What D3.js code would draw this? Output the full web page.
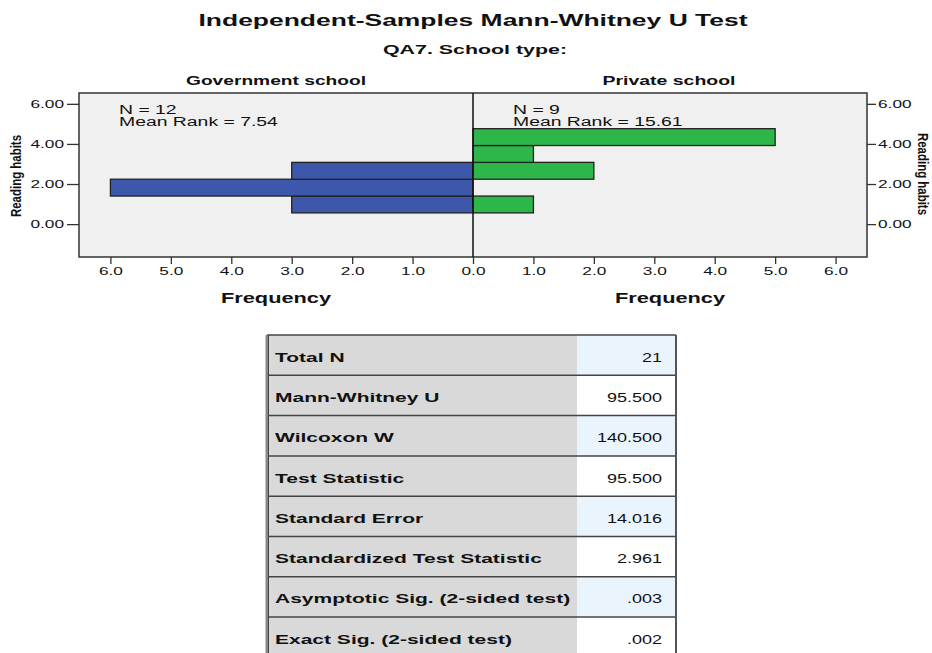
<!DOCTYPE html>
<html>
<head>
<meta charset="utf-8">
<script src="https://cdn.jsdelivr.net/npm/d3@7"></script>
<style>
  body { margin: 0; background: #fff; }
  text { font-family: "Liberation Sans", Arial, sans-serif; fill: #111; }
</style>
</head>
<body>
<div id="chart"></div>
<script>
// data
const binLower = [0.56, 1.40, 2.24, 3.08, 3.92];
const binUpper = [1.40, 2.24, 3.08, 3.92, 4.76];
const govFreq = [3, 6, 3, 0, 0];
const privFreq = [1, 0, 2, 1, 5];
const groups = ["Government school", "Private school"];
const groupN = [12, 9];
const meanRank = ["7.54", "15.61"];
const yTicks = [0, 2, 4, 6];
const xTicks = [0, 1, 2, 3, 4, 5, 6];
const statLabels = ["Total N", "Mann-Whitney U", "Wilcoxon W", "Test Statistic",
  "Standard Error", "Standardized Test Statistic", "Asymptotic Sig. (2-sided test)",
  "Exact Sig. (2-sided test)"];
const statValues = ["21", "95.500", "140.500", "95.500", "14.016", "2.961", ".003", ".002"];

const W = 932, H = 653;
const panel = { left: 79, right: 867, top: 93, bottom: 257 };
const mid = 473;
const K = 1.68; // the picture is stretched sideways

const svg = d3.select("#chart").append("svg")
  .attr("width", W).attr("height", H);

// stretch text horizontally like the original
function widen(sel, k) {
  sel.each(function () {
    const w = this.getComputedTextLength();
    d3.select(this).attr("textLength", w * k).attr("lengthAdjust", "spacingAndGlyphs");
  });
}
function fit(sel, w) {
  sel.attr("textLength", w).attr("lengthAdjust", "spacingAndGlyphs");
}

// scales
const y = d3.scaleLinear().domain([-1.64, 6.54]).range([panel.bottom, panel.top]);
const xL = d3.scaleLinear().domain([0, 6.52]).range([mid, panel.left]);
const xR = d3.scaleLinear().domain([0, 6.52]).range([mid, panel.right]);

// titles
svg.append("text").attr("x", mid).attr("y", 26).attr("text-anchor", "middle")
  .attr("font-size", 16.5).attr("font-weight", "bold")
  .text("Independent-Samples Mann-Whitney U Test").call(fit, 549);
svg.append("text").attr("x", 475).attr("y", 54).attr("text-anchor", "middle")
  .attr("font-size", 12.5).attr("font-weight", "bold")
  .text("QA7. School type:").call(fit, 184);
svg.append("text").attr("x", 276).attr("y", 85).attr("text-anchor", "middle")
  .attr("font-size", 12.5).attr("font-weight", "bold")
  .text(groups[0]).call(fit, 180);
svg.append("text").attr("x", 669).attr("y", 85).attr("text-anchor", "middle")
  .attr("font-size", 12.5).attr("font-weight", "bold")
  .text(groups[1]).call(fit, 133);

// panel
svg.append("rect")
  .attr("x", panel.left).attr("y", panel.top)
  .attr("width", panel.right - panel.left).attr("height", panel.bottom - panel.top)
  .attr("fill", "#f0f0f0").attr("stroke", "#333").attr("stroke-width", 1.5);

// bars
const bins = binLower.map((lo, i) => ({ lo: lo, hi: binUpper[i], gov: govFreq[i], priv: privFreq[i] }));

svg.append("g").selectAll("rect")
  .data(bins.filter(d => d.gov > 0))
  .join("rect")
  .attr("x", d => xL(d.gov))
  .attr("y", d => y(d.hi))
  .attr("width", d => xL(0) - xL(d.gov))
  .attr("height", d => y(d.lo) - y(d.hi))
  .attr("fill", "#3d57ab").attr("stroke", "#222").attr("stroke-width", 1.3);

svg.append("g").selectAll("rect")
  .data(bins.filter(d => d.priv > 0))
  .join("rect")
  .attr("x", xR(0))
  .attr("y", d => y(d.hi))
  .attr("width", d => xR(d.priv) - xR(0))
  .attr("height", d => y(d.lo) - y(d.hi))
  .attr("fill", "#2db64a").attr("stroke", "#222").attr("stroke-width", 1.3);

// centre line
svg.append("line")
  .attr("x1", mid).attr("x2", mid).attr("y1", panel.top).attr("y2", panel.bottom)
  .attr("stroke", "#111").attr("stroke-width", 1.5);

// N / mean rank notes
const notes = [
  { x: 119, lines: ["N = " + groupN[0], "Mean Rank = " + meanRank[0]] },
  { x: 513, lines: ["N = " + groupN[1], "Mean Rank = " + meanRank[1]] }
];
notes.forEach(n => {
  n.lines.forEach((t, i) => {
    svg.append("text").attr("x", n.x).attr("y", 113.5 + i * 12.5)
      .attr("font-size", 12.5).text(t).call(widen, 1.55);
  });
});

// axes
const fmtY = d3.format(".2f"), fmtX = d3.format(".1f");
const gyL = svg.append("g").attr("transform", `translate(${panel.left},0)`)
  .call(d3.axisLeft(y).tickValues(yTicks).tickFormat(fmtY).tickSize(12).tickPadding(3));
const gyR = svg.append("g").attr("transform", `translate(${panel.right},0)`)
  .call(d3.axisRight(y).tickValues(yTicks).tickFormat(fmtY).tickSize(9).tickPadding(2));
const gxL = svg.append("g").attr("transform", `translate(0,${panel.bottom})`)
  .call(d3.axisBottom(xL).tickValues(xTicks.slice(1)).tickFormat(fmtX).tickSize(7).tickPadding(3));
const gxR = svg.append("g").attr("transform", `translate(0,${panel.bottom})`)
  .call(d3.axisBottom(xR).tickValues(xTicks).tickFormat(fmtX).tickSize(7).tickPadding(3));

[gyL, gyR, gxL, gxR].forEach(g => {
  g.select(".domain").remove();
  g.selectAll(".tick line").attr("stroke", "#333").attr("stroke-width", 1.3);
  g.selectAll(".tick text").attr("font-size", 11.5).attr("fill", "#222")
    .attr("font-family", "Liberation Sans, Arial, sans-serif").call(widen, 1.5);
});

// axis titles
[276, 670].forEach(cx => {
  svg.append("text").attr("x", cx).attr("y", 303).attr("text-anchor", "middle")
    .attr("font-size", 14).attr("font-weight", "bold")
    .text("Frequency").call(fit, 110);
});
svg.append("text").attr("transform", "translate(21,176) rotate(-90)")
  .attr("text-anchor", "middle").attr("font-size", 14).attr("font-weight", "bold")
  .attr("font-family", "Liberation Sans Narrow, Liberation Sans, Arial, sans-serif")
  .text("Reading habits").call(fit, 82);
svg.append("text").attr("transform", "translate(918,174) rotate(90)")
  .attr("text-anchor", "middle").attr("font-size", 14).attr("font-weight", "bold")
  .attr("font-family", "Liberation Sans Narrow, Liberation Sans, Arial, sans-serif")
  .text("Reading habits").call(fit, 82);

// statistics table
const tbl = { left: 267, split: 577, right: 676, top: 335, rowH: 40.3 };
const row = d3.scaleBand().domain(statLabels)
  .range([tbl.top, tbl.top + statLabels.length * tbl.rowH]);

const rows = svg.append("g").selectAll("g")
  .data(statLabels.map((l, i) => ({ label: l, value: statValues[i], i: i })))
  .join("g").attr("transform", d => `translate(0,${row(d.label)})`);

rows.append("rect").attr("x", tbl.left).attr("width", tbl.split - tbl.left)
  .attr("height", row.bandwidth()).attr("fill", "#d9d9d9");
rows.append("rect").attr("x", tbl.split).attr("width", tbl.right - tbl.split)
  .attr("height", row.bandwidth()).attr("fill", d => d.i % 2 === 0 ? "#eaf4fd" : "#ffffff");
rows.append("line").attr("x1", tbl.left).attr("x2", tbl.right)
  .attr("stroke", "#444").attr("stroke-width", 1.5);
rows.append("text").attr("x", 275).attr("y", row.bandwidth() / 2 + 6.5)
  .attr("font-size", 12.5).attr("font-weight", "bold")
  .text(d => d.label).call(widen, K);
rows.append("text").attr("x", 662).attr("y", row.bandwidth() / 2 + 6.5)
  .attr("text-anchor", "end").attr("font-size", 12).attr("fill", "#222")
  .text(d => d.value).call(widen, 1.5);

// table borders
const tBottom = tbl.top + statLabels.length * tbl.rowH;
svg.append("line").attr("x1", tbl.left).attr("x2", tbl.left)
  .attr("y1", tbl.top).attr("y2", tBottom).attr("stroke", "#888").attr("stroke-width", 3);
svg.append("line").attr("x1", tbl.left + 1.5).attr("x2", tbl.left + 1.5)
  .attr("y1", tbl.top).attr("y2", tBottom).attr("stroke", "#444").attr("stroke-width", 1);
svg.append("line").attr("x1", tbl.right).attr("x2", tbl.right)
  .attr("y1", tbl.top).attr("y2", tBottom).attr("stroke", "#555").attr("stroke-width", 2);
</script>
</body>
</html>
